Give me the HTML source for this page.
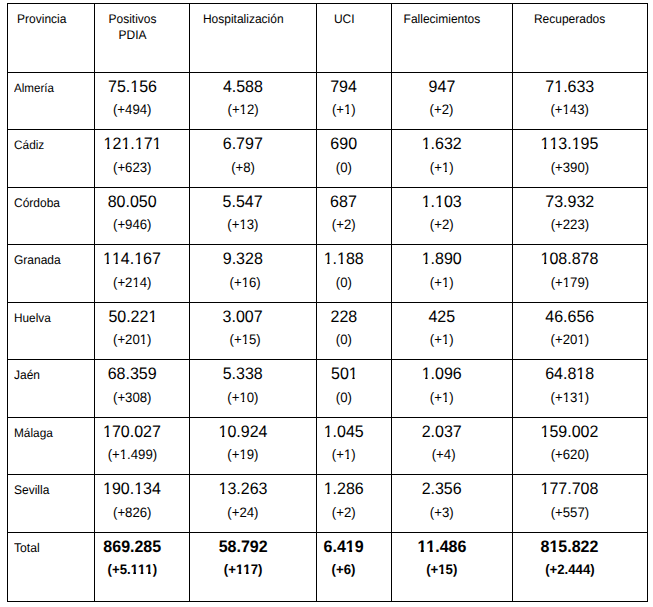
<!DOCTYPE html><html><head><meta charset="utf-8"><style>
html,body{margin:0;padding:0;background:#fff;}
body{width:653px;height:607px;position:relative;overflow:hidden;font-family:"Liberation Sans",sans-serif;color:#000;}
.h{position:absolute;height:1px;background:#000;}
.v{position:absolute;width:1px;background:#000;}
.t{position:absolute;white-space:nowrap;line-height:40px;height:40px;text-rendering:geometricPrecision;}
.c{width:200px;text-align:center;}
.o{display:inline-block;}
</style></head><body>
<div class="h" style="left:7px;top:3px;width:641px"></div>
<div class="h" style="left:7px;top:72px;width:641px"></div>
<div class="h" style="left:7px;top:129px;width:641px"></div>
<div class="h" style="left:7px;top:187px;width:641px"></div>
<div class="h" style="left:7px;top:244px;width:641px"></div>
<div class="h" style="left:7px;top:302px;width:641px"></div>
<div class="h" style="left:7px;top:359px;width:641px"></div>
<div class="h" style="left:7px;top:417px;width:641px"></div>
<div class="h" style="left:7px;top:474px;width:641px"></div>
<div class="h" style="left:7px;top:532px;width:641px"></div>
<div class="h" style="left:7px;top:601px;width:641px"></div>
<div class="v" style="left:7px;top:3px;height:599px"></div>
<div class="v" style="left:94px;top:3px;height:599px"></div>
<div class="v" style="left:189px;top:3px;height:599px"></div>
<div class="v" style="left:316px;top:3px;height:599px"></div>
<div class="v" style="left:391px;top:3px;height:599px"></div>
<div class="v" style="left:512px;top:3px;height:599px"></div>
<div class="v" style="left:647px;top:3px;height:599px"></div>
<div class="t" style="top:-1.46px;font-size:12px;transform:scaleY(1.04);transform-origin:0 24.16px;left:17.10px;">Provincia</div>
<div class="t c" style="top:-1.46px;font-size:12px;transform:scaleY(1.04);transform-origin:0 24.16px;left:32.50px;">Positivos</div>
<div class="t" style="top:-1.46px;font-size:12px;transform:scaleY(1.04);transform-origin:0 24.16px;left:202.90px;">Hospitalización</div>
<div class="t" style="top:-1.46px;font-size:12px;transform:scaleY(1.04);transform-origin:0 24.16px;left:333.90px;">UCI</div>
<div class="t" style="top:-1.46px;font-size:12px;transform:scaleY(1.04);transform-origin:0 24.16px;left:403.60px;">Fallecimientos</div>
<div class="t" style="top:-1.46px;font-size:12px;transform:scaleY(1.04);transform-origin:0 24.16px;left:533.90px;">Recuperados</div>
<div class="t c" style="top:14.74px;font-size:12px;transform:scaleY(1.04);transform-origin:0 24.16px;left:32.50px;">PDIA</div>
<div class="t" style="top:69.18px;font-size:11.6px;transform:scaleY(1.04);transform-origin:0 24.02px;left:14.00px;">Almería</div>
<div class="t c" style="top:68.36px;font-size:16px;transform:scaleY(1.04);transform-origin:0 25.54px;left:32.47px;">75.<span class="o" style="clip-path:polygon(-2px -2px,calc(100% + 2px) -2px,calc(100% + 2px) 20.74px,5.89px 20.74px,5.89px 42px,3.57px 42px,3.57px 20.74px,-2px 20.74px)">1</span>56</div>
<div class="t c" style="top:90.23px;font-size:13.2px;transform:scaleY(1.04);transform-origin:0 24.57px;left:32.21px;">(+494)</div>
<div class="t c" style="top:68.36px;font-size:16px;transform:scaleY(1.04);transform-origin:0 25.54px;left:142.91px;">4.588</div>
<div class="t c" style="top:90.23px;font-size:13.2px;transform:scaleY(1.04);transform-origin:0 24.57px;left:143.11px;">(+<span class="o" style="clip-path:polygon(-2px -2px,calc(100% + 2px) -2px,calc(100% + 2px) 20.61px,4.94px 20.61px,4.94px 42px,2.87px 42px,2.87px 20.61px,-2px 20.61px)">1</span>2)</div>
<div class="t c" style="top:68.36px;font-size:16px;transform:scaleY(1.04);transform-origin:0 25.54px;left:243.51px;">794</div>
<div class="t c" style="top:90.23px;font-size:13.2px;transform:scaleY(1.04);transform-origin:0 24.57px;left:243.85px;">(+<span class="o" style="clip-path:polygon(-2px -2px,calc(100% + 2px) -2px,calc(100% + 2px) 20.61px,4.94px 20.61px,4.94px 42px,2.87px 42px,2.87px 20.61px,-2px 20.61px)">1</span>)</div>
<div class="t c" style="top:68.36px;font-size:16px;transform:scaleY(1.04);transform-origin:0 25.54px;left:341.95px;">947</div>
<div class="t c" style="top:90.23px;font-size:13.2px;transform:scaleY(1.04);transform-origin:0 24.57px;left:341.48px;">(+2)</div>
<div class="t c" style="top:68.36px;font-size:16px;transform:scaleY(1.04);transform-origin:0 25.54px;left:469.81px;">7<span class="o" style="clip-path:polygon(-2px -2px,calc(100% + 2px) -2px,calc(100% + 2px) 20.74px,5.89px 20.74px,5.89px 42px,3.57px 42px,3.57px 20.74px,-2px 20.74px)">1</span>.633</div>
<div class="t c" style="top:90.23px;font-size:13.2px;transform:scaleY(1.04);transform-origin:0 24.57px;left:469.64px;">(+<span class="o" style="clip-path:polygon(-2px -2px,calc(100% + 2px) -2px,calc(100% + 2px) 20.61px,4.94px 20.61px,4.94px 42px,2.87px 42px,2.87px 20.61px,-2px 20.61px)">1</span>43)</div>
<div class="t" style="top:125.19px;font-size:11.85px;transform:scaleY(1.04);transform-origin:0 24.11px;left:14.00px;">Cádiz</div>
<div class="t c" style="top:125.36px;font-size:16px;transform:scaleY(1.04);transform-origin:0 25.54px;left:32.57px;"><span class="o" style="clip-path:polygon(-2px -2px,calc(100% + 2px) -2px,calc(100% + 2px) 20.74px,5.89px 20.74px,5.89px 42px,3.57px 42px,3.57px 20.74px,-2px 20.74px)">1</span>2<span class="o" style="clip-path:polygon(-2px -2px,calc(100% + 2px) -2px,calc(100% + 2px) 20.74px,5.89px 20.74px,5.89px 42px,3.57px 42px,3.57px 20.74px,-2px 20.74px)">1</span>.<span class="o" style="clip-path:polygon(-2px -2px,calc(100% + 2px) -2px,calc(100% + 2px) 20.74px,5.89px 20.74px,5.89px 42px,3.57px 42px,3.57px 20.74px,-2px 20.74px)">1</span>7<span class="o" style="clip-path:polygon(-2px -2px,calc(100% + 2px) -2px,calc(100% + 2px) 20.74px,5.89px 20.74px,5.89px 42px,3.57px 42px,3.57px 20.74px,-2px 20.74px)">1</span></div>
<div class="t c" style="top:148.33px;font-size:13.2px;transform:scaleY(1.04);transform-origin:0 24.57px;left:32.26px;">(+623)</div>
<div class="t c" style="top:125.36px;font-size:16px;transform:scaleY(1.04);transform-origin:0 25.54px;left:142.80px;">6.797</div>
<div class="t c" style="top:148.33px;font-size:13.2px;transform:scaleY(1.04);transform-origin:0 24.57px;left:143.06px;">(+8)</div>
<div class="t c" style="top:125.36px;font-size:16px;transform:scaleY(1.04);transform-origin:0 25.54px;left:243.69px;">690</div>
<div class="t c" style="top:148.33px;font-size:13.2px;transform:scaleY(1.04);transform-origin:0 24.57px;left:243.91px;">(0)</div>
<div class="t c" style="top:125.36px;font-size:16px;transform:scaleY(1.04);transform-origin:0 25.54px;left:341.72px;"><span class="o" style="clip-path:polygon(-2px -2px,calc(100% + 2px) -2px,calc(100% + 2px) 20.74px,5.89px 20.74px,5.89px 42px,3.57px 42px,3.57px 20.74px,-2px 20.74px)">1</span>.632</div>
<div class="t c" style="top:148.33px;font-size:13.2px;transform:scaleY(1.04);transform-origin:0 24.57px;left:341.75px;">(+<span class="o" style="clip-path:polygon(-2px -2px,calc(100% + 2px) -2px,calc(100% + 2px) 20.61px,4.94px 20.61px,4.94px 42px,2.87px 42px,2.87px 20.61px,-2px 20.61px)">1</span>)</div>
<div class="t c" style="top:125.36px;font-size:16px;transform:scaleY(1.04);transform-origin:0 25.54px;left:469.41px;"><span class="o" style="clip-path:polygon(-2px -2px,calc(100% + 2px) -2px,calc(100% + 2px) 20.74px,5.89px 20.74px,5.89px 42px,3.57px 42px,3.57px 20.74px,-2px 20.74px)">1</span><span class="o" style="clip-path:polygon(-2px -2px,calc(100% + 2px) -2px,calc(100% + 2px) 20.74px,5.89px 20.74px,5.89px 42px,3.57px 42px,3.57px 20.74px,-2px 20.74px)">1</span>3.<span class="o" style="clip-path:polygon(-2px -2px,calc(100% + 2px) -2px,calc(100% + 2px) 20.74px,5.89px 20.74px,5.89px 42px,3.57px 42px,3.57px 20.74px,-2px 20.74px)">1</span>95</div>
<div class="t c" style="top:148.33px;font-size:13.2px;transform:scaleY(1.04);transform-origin:0 24.57px;left:469.89px;">(+390)</div>
<div class="t" style="top:183.14px;font-size:12px;transform:scaleY(1.04);transform-origin:0 24.16px;left:14.00px;">Córdoba</div>
<div class="t c" style="top:183.36px;font-size:16px;transform:scaleY(1.04);transform-origin:0 25.54px;left:32.19px;">80.050</div>
<div class="t c" style="top:205.23px;font-size:13.2px;transform:scaleY(1.04);transform-origin:0 24.57px;left:32.26px;">(+946)</div>
<div class="t c" style="top:183.36px;font-size:16px;transform:scaleY(1.04);transform-origin:0 25.54px;left:142.61px;">5.547</div>
<div class="t c" style="top:205.23px;font-size:13.2px;transform:scaleY(1.04);transform-origin:0 24.57px;left:142.91px;">(+<span class="o" style="clip-path:polygon(-2px -2px,calc(100% + 2px) -2px,calc(100% + 2px) 20.61px,4.94px 20.61px,4.94px 42px,2.87px 42px,2.87px 20.61px,-2px 20.61px)">1</span>3)</div>
<div class="t c" style="top:183.36px;font-size:16px;transform:scaleY(1.04);transform-origin:0 25.54px;left:243.46px;">687</div>
<div class="t c" style="top:205.23px;font-size:13.2px;transform:scaleY(1.04);transform-origin:0 24.57px;left:243.75px;">(+2)</div>
<div class="t c" style="top:183.36px;font-size:16px;transform:scaleY(1.04);transform-origin:0 25.54px;left:341.70px;"><span class="o" style="clip-path:polygon(-2px -2px,calc(100% + 2px) -2px,calc(100% + 2px) 20.74px,5.89px 20.74px,5.89px 42px,3.57px 42px,3.57px 20.74px,-2px 20.74px)">1</span>.<span class="o" style="clip-path:polygon(-2px -2px,calc(100% + 2px) -2px,calc(100% + 2px) 20.74px,5.89px 20.74px,5.89px 42px,3.57px 42px,3.57px 20.74px,-2px 20.74px)">1</span>03</div>
<div class="t c" style="top:205.23px;font-size:13.2px;transform:scaleY(1.04);transform-origin:0 24.57px;left:341.75px;">(+2)</div>
<div class="t c" style="top:183.36px;font-size:16px;transform:scaleY(1.04);transform-origin:0 25.54px;left:469.78px;">73.932</div>
<div class="t c" style="top:205.23px;font-size:13.2px;transform:scaleY(1.04);transform-origin:0 24.57px;left:469.89px;">(+223)</div>
<div class="t" style="top:240.14px;font-size:12px;transform:scaleY(1.04);transform-origin:0 24.16px;left:14.00px;">Granada</div>
<div class="t c" style="top:240.36px;font-size:16px;transform:scaleY(1.04);transform-origin:0 25.54px;left:31.94px;"><span class="o" style="clip-path:polygon(-2px -2px,calc(100% + 2px) -2px,calc(100% + 2px) 20.74px,5.89px 20.74px,5.89px 42px,3.57px 42px,3.57px 20.74px,-2px 20.74px)">1</span><span class="o" style="clip-path:polygon(-2px -2px,calc(100% + 2px) -2px,calc(100% + 2px) 20.74px,5.89px 20.74px,5.89px 42px,3.57px 42px,3.57px 20.74px,-2px 20.74px)">1</span>4.<span class="o" style="clip-path:polygon(-2px -2px,calc(100% + 2px) -2px,calc(100% + 2px) 20.74px,5.89px 20.74px,5.89px 42px,3.57px 42px,3.57px 20.74px,-2px 20.74px)">1</span>67</div>
<div class="t c" style="top:263.33px;font-size:13.2px;transform:scaleY(1.04);transform-origin:0 24.57px;left:32.26px;">(+2<span class="o" style="clip-path:polygon(-2px -2px,calc(100% + 2px) -2px,calc(100% + 2px) 20.61px,4.94px 20.61px,4.94px 42px,2.87px 42px,2.87px 20.61px,-2px 20.61px)">1</span>4)</div>
<div class="t c" style="top:240.36px;font-size:16px;transform:scaleY(1.04);transform-origin:0 25.54px;left:142.79px;">9.328</div>
<div class="t c" style="top:263.33px;font-size:13.2px;transform:scaleY(1.04);transform-origin:0 24.57px;left:145.16px;">(+<span class="o" style="clip-path:polygon(-2px -2px,calc(100% + 2px) -2px,calc(100% + 2px) 20.61px,4.94px 20.61px,4.94px 42px,2.87px 42px,2.87px 20.61px,-2px 20.61px)">1</span>6)</div>
<div class="t c" style="top:240.36px;font-size:16px;transform:scaleY(1.04);transform-origin:0 25.54px;left:243.69px;"><span class="o" style="clip-path:polygon(-2px -2px,calc(100% + 2px) -2px,calc(100% + 2px) 20.74px,5.89px 20.74px,5.89px 42px,3.57px 42px,3.57px 20.74px,-2px 20.74px)">1</span>.<span class="o" style="clip-path:polygon(-2px -2px,calc(100% + 2px) -2px,calc(100% + 2px) 20.74px,5.89px 20.74px,5.89px 42px,3.57px 42px,3.57px 20.74px,-2px 20.74px)">1</span>88</div>
<div class="t c" style="top:263.33px;font-size:13.2px;transform:scaleY(1.04);transform-origin:0 24.57px;left:243.91px;">(0)</div>
<div class="t c" style="top:240.36px;font-size:16px;transform:scaleY(1.04);transform-origin:0 25.54px;left:341.66px;"><span class="o" style="clip-path:polygon(-2px -2px,calc(100% + 2px) -2px,calc(100% + 2px) 20.74px,5.89px 20.74px,5.89px 42px,3.57px 42px,3.57px 20.74px,-2px 20.74px)">1</span>.890</div>
<div class="t c" style="top:263.33px;font-size:13.2px;transform:scaleY(1.04);transform-origin:0 24.57px;left:341.75px;">(+<span class="o" style="clip-path:polygon(-2px -2px,calc(100% + 2px) -2px,calc(100% + 2px) 20.61px,4.94px 20.61px,4.94px 42px,2.87px 42px,2.87px 20.61px,-2px 20.61px)">1</span>)</div>
<div class="t c" style="top:240.36px;font-size:16px;transform:scaleY(1.04);transform-origin:0 25.54px;left:469.43px;"><span class="o" style="clip-path:polygon(-2px -2px,calc(100% + 2px) -2px,calc(100% + 2px) 20.74px,5.89px 20.74px,5.89px 42px,3.57px 42px,3.57px 20.74px,-2px 20.74px)">1</span>08.878</div>
<div class="t c" style="top:263.33px;font-size:13.2px;transform:scaleY(1.04);transform-origin:0 24.57px;left:469.89px;">(+<span class="o" style="clip-path:polygon(-2px -2px,calc(100% + 2px) -2px,calc(100% + 2px) 20.61px,4.94px 20.61px,4.94px 42px,2.87px 42px,2.87px 20.61px,-2px 20.61px)">1</span>79)</div>
<div class="t" style="top:298.21px;font-size:11.8px;transform:scaleY(1.04);transform-origin:0 24.09px;left:14.00px;">Huelva</div>
<div class="t c" style="top:298.36px;font-size:16px;transform:scaleY(1.04);transform-origin:0 25.54px;left:32.87px;">50.22<span class="o" style="clip-path:polygon(-2px -2px,calc(100% + 2px) -2px,calc(100% + 2px) 20.74px,5.89px 20.74px,5.89px 42px,3.57px 42px,3.57px 20.74px,-2px 20.74px)">1</span></div>
<div class="t c" style="top:320.23px;font-size:13.2px;transform:scaleY(1.04);transform-origin:0 24.57px;left:32.26px;">(+20<span class="o" style="clip-path:polygon(-2px -2px,calc(100% + 2px) -2px,calc(100% + 2px) 20.61px,4.94px 20.61px,4.94px 42px,2.87px 42px,2.87px 20.61px,-2px 20.61px)">1</span>)</div>
<div class="t c" style="top:298.36px;font-size:16px;transform:scaleY(1.04);transform-origin:0 25.54px;left:142.62px;">3.007</div>
<div class="t c" style="top:320.23px;font-size:13.2px;transform:scaleY(1.04);transform-origin:0 24.57px;left:145.16px;">(+<span class="o" style="clip-path:polygon(-2px -2px,calc(100% + 2px) -2px,calc(100% + 2px) 20.61px,4.94px 20.61px,4.94px 42px,2.87px 42px,2.87px 20.61px,-2px 20.61px)">1</span>5)</div>
<div class="t c" style="top:298.36px;font-size:16px;transform:scaleY(1.04);transform-origin:0 25.54px;left:243.88px;">228</div>
<div class="t c" style="top:320.23px;font-size:13.2px;transform:scaleY(1.04);transform-origin:0 24.57px;left:243.91px;">(0)</div>
<div class="t c" style="top:298.36px;font-size:16px;transform:scaleY(1.04);transform-origin:0 25.54px;left:341.76px;">425</div>
<div class="t c" style="top:320.23px;font-size:13.2px;transform:scaleY(1.04);transform-origin:0 24.57px;left:341.75px;">(+<span class="o" style="clip-path:polygon(-2px -2px,calc(100% + 2px) -2px,calc(100% + 2px) 20.61px,4.94px 20.61px,4.94px 42px,2.87px 42px,2.87px 20.61px,-2px 20.61px)">1</span>)</div>
<div class="t c" style="top:298.36px;font-size:16px;transform:scaleY(1.04);transform-origin:0 25.54px;left:469.77px;">46.656</div>
<div class="t c" style="top:320.23px;font-size:13.2px;transform:scaleY(1.04);transform-origin:0 24.57px;left:469.89px;">(+20<span class="o" style="clip-path:polygon(-2px -2px,calc(100% + 2px) -2px,calc(100% + 2px) 20.61px,4.94px 20.61px,4.94px 42px,2.87px 42px,2.87px 20.61px,-2px 20.61px)">1</span>)</div>
<div class="t" style="top:355.14px;font-size:12px;transform:scaleY(1.04);transform-origin:0 24.16px;left:14.00px;">Jaén</div>
<div class="t c" style="top:355.36px;font-size:16px;transform:scaleY(1.04);transform-origin:0 25.54px;left:32.17px;">68.359</div>
<div class="t c" style="top:378.33px;font-size:13.2px;transform:scaleY(1.04);transform-origin:0 24.57px;left:32.26px;">(+308)</div>
<div class="t c" style="top:355.36px;font-size:16px;transform:scaleY(1.04);transform-origin:0 25.54px;left:142.70px;">5.338</div>
<div class="t c" style="top:378.33px;font-size:13.2px;transform:scaleY(1.04);transform-origin:0 24.57px;left:142.91px;">(+<span class="o" style="clip-path:polygon(-2px -2px,calc(100% + 2px) -2px,calc(100% + 2px) 20.61px,4.94px 20.61px,4.94px 42px,2.87px 42px,2.87px 20.61px,-2px 20.61px)">1</span>0)</div>
<div class="t c" style="top:355.36px;font-size:16px;transform:scaleY(1.04);transform-origin:0 25.54px;left:244.35px;">50<span class="o" style="clip-path:polygon(-2px -2px,calc(100% + 2px) -2px,calc(100% + 2px) 20.74px,5.89px 20.74px,5.89px 42px,3.57px 42px,3.57px 20.74px,-2px 20.74px)">1</span></div>
<div class="t c" style="top:378.33px;font-size:13.2px;transform:scaleY(1.04);transform-origin:0 24.57px;left:243.91px;">(0)</div>
<div class="t c" style="top:355.36px;font-size:16px;transform:scaleY(1.04);transform-origin:0 25.54px;left:341.70px;"><span class="o" style="clip-path:polygon(-2px -2px,calc(100% + 2px) -2px,calc(100% + 2px) 20.74px,5.89px 20.74px,5.89px 42px,3.57px 42px,3.57px 20.74px,-2px 20.74px)">1</span>.096</div>
<div class="t c" style="top:378.33px;font-size:13.2px;transform:scaleY(1.04);transform-origin:0 24.57px;left:341.75px;">(+<span class="o" style="clip-path:polygon(-2px -2px,calc(100% + 2px) -2px,calc(100% + 2px) 20.61px,4.94px 20.61px,4.94px 42px,2.87px 42px,2.87px 20.61px,-2px 20.61px)">1</span>)</div>
<div class="t c" style="top:355.36px;font-size:16px;transform:scaleY(1.04);transform-origin:0 25.54px;left:469.64px;">64.8<span class="o" style="clip-path:polygon(-2px -2px,calc(100% + 2px) -2px,calc(100% + 2px) 20.74px,5.89px 20.74px,5.89px 42px,3.57px 42px,3.57px 20.74px,-2px 20.74px)">1</span>8</div>
<div class="t c" style="top:378.33px;font-size:13.2px;transform:scaleY(1.04);transform-origin:0 24.57px;left:469.89px;">(+<span class="o" style="clip-path:polygon(-2px -2px,calc(100% + 2px) -2px,calc(100% + 2px) 20.61px,4.94px 20.61px,4.94px 42px,2.87px 42px,2.87px 20.61px,-2px 20.61px)">1</span>3<span class="o" style="clip-path:polygon(-2px -2px,calc(100% + 2px) -2px,calc(100% + 2px) 20.61px,4.94px 20.61px,4.94px 42px,2.87px 42px,2.87px 20.61px,-2px 20.61px)">1</span>)</div>
<div class="t" style="top:413.19px;font-size:11.85px;transform:scaleY(1.04);transform-origin:0 24.11px;left:14.00px;">Málaga</div>
<div class="t c" style="top:413.36px;font-size:16px;transform:scaleY(1.04);transform-origin:0 25.54px;left:31.98px;"><span class="o" style="clip-path:polygon(-2px -2px,calc(100% + 2px) -2px,calc(100% + 2px) 20.74px,5.89px 20.74px,5.89px 42px,3.57px 42px,3.57px 20.74px,-2px 20.74px)">1</span>70.027</div>
<div class="t c" style="top:435.23px;font-size:13.2px;transform:scaleY(1.04);transform-origin:0 24.57px;left:32.42px;">(+<span class="o" style="clip-path:polygon(-2px -2px,calc(100% + 2px) -2px,calc(100% + 2px) 20.61px,4.94px 20.61px,4.94px 42px,2.87px 42px,2.87px 20.61px,-2px 20.61px)">1</span>.499)</div>
<div class="t c" style="top:413.36px;font-size:16px;transform:scaleY(1.04);transform-origin:0 25.54px;left:142.99px;"><span class="o" style="clip-path:polygon(-2px -2px,calc(100% + 2px) -2px,calc(100% + 2px) 20.74px,5.89px 20.74px,5.89px 42px,3.57px 42px,3.57px 20.74px,-2px 20.74px)">1</span>0.924</div>
<div class="t c" style="top:435.23px;font-size:13.2px;transform:scaleY(1.04);transform-origin:0 24.57px;left:142.91px;">(+<span class="o" style="clip-path:polygon(-2px -2px,calc(100% + 2px) -2px,calc(100% + 2px) 20.61px,4.94px 20.61px,4.94px 42px,2.87px 42px,2.87px 20.61px,-2px 20.61px)">1</span>9)</div>
<div class="t c" style="top:413.36px;font-size:16px;transform:scaleY(1.04);transform-origin:0 25.54px;left:243.68px;"><span class="o" style="clip-path:polygon(-2px -2px,calc(100% + 2px) -2px,calc(100% + 2px) 20.74px,5.89px 20.74px,5.89px 42px,3.57px 42px,3.57px 20.74px,-2px 20.74px)">1</span>.045</div>
<div class="t c" style="top:435.23px;font-size:13.2px;transform:scaleY(1.04);transform-origin:0 24.57px;left:243.75px;">(+<span class="o" style="clip-path:polygon(-2px -2px,calc(100% + 2px) -2px,calc(100% + 2px) 20.61px,4.94px 20.61px,4.94px 42px,2.87px 42px,2.87px 20.61px,-2px 20.61px)">1</span>)</div>
<div class="t c" style="top:413.36px;font-size:16px;transform:scaleY(1.04);transform-origin:0 25.54px;left:341.71px;">2.037</div>
<div class="t c" style="top:435.23px;font-size:13.2px;transform:scaleY(1.04);transform-origin:0 24.57px;left:343.65px;">(+4)</div>
<div class="t c" style="top:413.36px;font-size:16px;transform:scaleY(1.04);transform-origin:0 25.54px;left:469.44px;"><span class="o" style="clip-path:polygon(-2px -2px,calc(100% + 2px) -2px,calc(100% + 2px) 20.74px,5.89px 20.74px,5.89px 42px,3.57px 42px,3.57px 20.74px,-2px 20.74px)">1</span>59.002</div>
<div class="t c" style="top:435.23px;font-size:13.2px;transform:scaleY(1.04);transform-origin:0 24.57px;left:469.89px;">(+620)</div>
<div class="t" style="top:470.14px;font-size:12px;transform:scaleY(1.04);transform-origin:0 24.16px;left:14.00px;">Sevilla</div>
<div class="t c" style="top:470.36px;font-size:16px;transform:scaleY(1.04);transform-origin:0 25.54px;left:31.94px;"><span class="o" style="clip-path:polygon(-2px -2px,calc(100% + 2px) -2px,calc(100% + 2px) 20.74px,5.89px 20.74px,5.89px 42px,3.57px 42px,3.57px 20.74px,-2px 20.74px)">1</span>90.<span class="o" style="clip-path:polygon(-2px -2px,calc(100% + 2px) -2px,calc(100% + 2px) 20.74px,5.89px 20.74px,5.89px 42px,3.57px 42px,3.57px 20.74px,-2px 20.74px)">1</span>34</div>
<div class="t c" style="top:493.33px;font-size:13.2px;transform:scaleY(1.04);transform-origin:0 24.57px;left:32.26px;">(+826)</div>
<div class="t c" style="top:470.36px;font-size:16px;transform:scaleY(1.04);transform-origin:0 25.54px;left:142.99px;"><span class="o" style="clip-path:polygon(-2px -2px,calc(100% + 2px) -2px,calc(100% + 2px) 20.74px,5.89px 20.74px,5.89px 42px,3.57px 42px,3.57px 20.74px,-2px 20.74px)">1</span>3.263</div>
<div class="t c" style="top:493.33px;font-size:13.2px;transform:scaleY(1.04);transform-origin:0 24.57px;left:142.91px;">(+24)</div>
<div class="t c" style="top:470.36px;font-size:16px;transform:scaleY(1.04);transform-origin:0 25.54px;left:243.70px;"><span class="o" style="clip-path:polygon(-2px -2px,calc(100% + 2px) -2px,calc(100% + 2px) 20.74px,5.89px 20.74px,5.89px 42px,3.57px 42px,3.57px 20.74px,-2px 20.74px)">1</span>.286</div>
<div class="t c" style="top:493.33px;font-size:13.2px;transform:scaleY(1.04);transform-origin:0 24.57px;left:243.75px;">(+2)</div>
<div class="t c" style="top:470.36px;font-size:16px;transform:scaleY(1.04);transform-origin:0 25.54px;left:341.67px;">2.356</div>
<div class="t c" style="top:493.33px;font-size:13.2px;transform:scaleY(1.04);transform-origin:0 24.57px;left:341.75px;">(+3)</div>
<div class="t c" style="top:470.36px;font-size:16px;transform:scaleY(1.04);transform-origin:0 25.54px;left:469.43px;"><span class="o" style="clip-path:polygon(-2px -2px,calc(100% + 2px) -2px,calc(100% + 2px) 20.74px,5.89px 20.74px,5.89px 42px,3.57px 42px,3.57px 20.74px,-2px 20.74px)">1</span>77.708</div>
<div class="t c" style="top:493.33px;font-size:13.2px;transform:scaleY(1.04);transform-origin:0 24.57px;left:469.89px;">(+557)</div>
<div class="t" style="top:528.07px;font-size:12.2px;transform:scaleY(1.04);transform-origin:0 24.23px;left:14.00px;">Total</div>
<div class="t c" style="top:528.36px;font-size:16px;transform:scaleY(1.04);transform-origin:0 25.54px;font-weight:bold;left:32.26px;">869.285</div>
<div class="t c" style="top:550.23px;font-size:13.2px;transform:scaleY(1.04);transform-origin:0 24.57px;font-weight:bold;left:32.34px;">(+5.<span class="o" style="clip-path:polygon(-2px -2px,calc(100% + 2px) -2px,calc(100% + 2px) 20.61px,5.34px 20.61px,5.34px 42px,2.63px 42px,2.63px 20.61px,-2px 20.61px)">1</span><span class="o" style="clip-path:polygon(-2px -2px,calc(100% + 2px) -2px,calc(100% + 2px) 20.61px,5.34px 20.61px,5.34px 42px,2.63px 42px,2.63px 20.61px,-2px 20.61px)">1</span><span class="o" style="clip-path:polygon(-2px -2px,calc(100% + 2px) -2px,calc(100% + 2px) 20.61px,5.34px 20.61px,5.34px 42px,2.63px 42px,2.63px 20.61px,-2px 20.61px)">1</span>)</div>
<div class="t c" style="top:528.36px;font-size:16px;transform:scaleY(1.04);transform-origin:0 25.54px;font-weight:bold;left:143.15px;">58.792</div>
<div class="t c" style="top:550.23px;font-size:13.2px;transform:scaleY(1.04);transform-origin:0 24.57px;font-weight:bold;left:143.14px;">(+<span class="o" style="clip-path:polygon(-2px -2px,calc(100% + 2px) -2px,calc(100% + 2px) 20.61px,5.34px 20.61px,5.34px 42px,2.63px 42px,2.63px 20.61px,-2px 20.61px)">1</span><span class="o" style="clip-path:polygon(-2px -2px,calc(100% + 2px) -2px,calc(100% + 2px) 20.61px,5.34px 20.61px,5.34px 42px,2.63px 42px,2.63px 20.61px,-2px 20.61px)">1</span>7)</div>
<div class="t c" style="top:528.36px;font-size:16px;transform:scaleY(1.04);transform-origin:0 25.54px;font-weight:bold;left:243.58px;">6.4<span class="o" style="clip-path:polygon(-2px -2px,calc(100% + 2px) -2px,calc(100% + 2px) 20.74px,6.38px 20.74px,6.38px 42px,3.28px 42px,3.28px 20.74px,-2px 20.74px)">1</span>9</div>
<div class="t c" style="top:550.23px;font-size:13.2px;transform:scaleY(1.04);transform-origin:0 24.57px;font-weight:bold;left:243.54px;">(+6)</div>
<div class="t c" style="top:528.36px;font-size:16px;transform:scaleY(1.04);transform-origin:0 25.54px;font-weight:bold;left:341.95px;"><span class="o" style="clip-path:polygon(-2px -2px,calc(100% + 2px) -2px,calc(100% + 2px) 20.74px,6.38px 20.74px,6.38px 42px,3.28px 42px,3.28px 20.74px,-2px 20.74px)">1</span><span class="o" style="clip-path:polygon(-2px -2px,calc(100% + 2px) -2px,calc(100% + 2px) 20.74px,6.38px 20.74px,6.38px 42px,3.28px 42px,3.28px 20.74px,-2px 20.74px)">1</span>.486</div>
<div class="t c" style="top:550.23px;font-size:13.2px;transform:scaleY(1.04);transform-origin:0 24.57px;font-weight:bold;left:341.76px;">(+<span class="o" style="clip-path:polygon(-2px -2px,calc(100% + 2px) -2px,calc(100% + 2px) 20.61px,5.34px 20.61px,5.34px 42px,2.63px 42px,2.63px 20.61px,-2px 20.61px)">1</span>5)</div>
<div class="t c" style="top:528.36px;font-size:16px;transform:scaleY(1.04);transform-origin:0 25.54px;font-weight:bold;left:469.48px;">8<span class="o" style="clip-path:polygon(-2px -2px,calc(100% + 2px) -2px,calc(100% + 2px) 20.74px,6.38px 20.74px,6.38px 42px,3.28px 42px,3.28px 20.74px,-2px 20.74px)">1</span>5.822</div>
<div class="t c" style="top:550.23px;font-size:13.2px;transform:scaleY(1.04);transform-origin:0 24.57px;font-weight:bold;left:469.94px;">(+2.444)</div>
</body></html>
